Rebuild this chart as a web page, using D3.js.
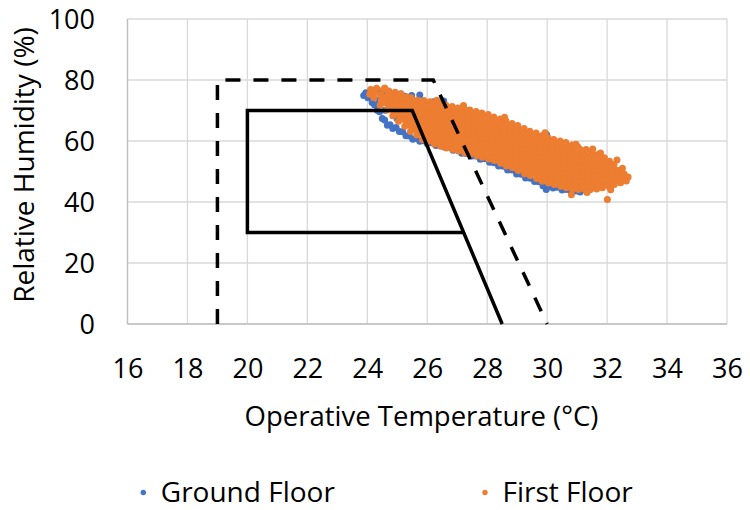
<!DOCTYPE html>
<html>
<head>
<meta charset="utf-8">
<script src="https://cdn.jsdelivr.net/npm/d3@7/dist/d3.min.js"></script>
<style>
  html, body { margin: 0; padding: 0; background: #ffffff; }
  svg { display: block; font-family: "Open Sans", "Noto Sans", sans-serif; }
</style>
</head>
<body>
<svg id="chart" width="750" height="510"></svg>
<script>
// Axis ticks
const xTicks = [16, 18, 20, 22, 24, 26, 28, 30, 32, 34, 36];
const yTicks = [0, 20, 40, 60, 80, 100];

// Comfort zone outlines: [operative temperature (°C), relative humidity (%)]
const zoneOuter = [[19, 0], [19, 80], [26.2, 80], [30, 0]];
const zoneInner = [[27.2, 30], [20, 30], [20, 70], [25.5, 70], [28.5, 0]];

// Hourly readings, ground floor: [temperature, RH]
const groundFloor = [
  [23.88,74.9],[23.95,75.8],[24.02,74.2],[24.10,76.3],[24.16,72.6],[24.24,71.9],[24.33,70.1],[24.41,69.6],
  [24.50,67.4],[24.58,66.9],[24.67,65.2],[24.76,65.3],[24.85,64.1],[24.96,64.4],[25.07,63.1],[25.18,63.0],
  [25.29,61.7],[25.40,61.6],[25.52,60.6],[25.63,60.8],[25.75,59.9],[25.88,60.1],[26.00,59.2],[26.14,59.4],
  [26.29,58.5],[26.43,58.9],[26.58,58.0],[26.72,58.1],[26.86,57.0],[27.00,57.1],[27.15,56.0],[27.30,55.9],
  [27.46,55.0],[27.61,55.1],[27.77,54.0],[27.92,54.2],[28.08,53.0],[28.23,52.9],[28.38,51.8],[28.53,51.7],
  [28.68,50.5],[28.83,50.5],[28.98,49.2],[29.13,49.1],[29.28,47.9],[29.43,47.8],[29.58,46.7],[29.72,46.6],
  [29.86,45.3],[29.97,44.1],[30.05,45.1],[30.20,44.6],[30.35,44.8],[30.50,43.9],[30.65,44.1],[30.80,43.4],
  [30.95,43.6],[31.10,43.3],[31.25,44.0],[31.40,44.1],[31.55,44.9],
  [24.20,76.6],[24.38,76.1],[24.55,75.6],[24.75,75.2],[25.00,75.0],[25.12,75.4],[25.25,74.7],[25.48,74.9],
  [25.75,75.1],[26.00,72.4],[26.21,72.9],[26.40,71.5],[26.55,73.1],[26.80,70.6],[27.20,69.7],[27.60,68.6],
  [28.00,67.5],[28.40,66.2],[28.80,64.8],[29.20,63.3],[29.60,61.7],[29.98,62.1],[30.30,59.3],[30.70,57.6],
  [31.10,56.0],[31.45,54.2],
  [24.40,73.5],[24.80,71.5],[25.20,70.0],[25.60,68.4],[26.00,66.8],[26.40,65.2],[26.80,63.8],[27.20,62.3],
  [27.60,61.0],[28.00,59.6],[28.40,58.1],[28.80,56.6],[29.20,55.2],[29.60,53.7],[30.00,52.2],[30.40,50.8],
  [30.80,49.5],[31.20,48.4],
  [24.60,70.1],[25.00,67.3],[25.40,65.4],[25.80,63.6],[26.20,62.2],[26.60,61.0],[27.00,59.7],[27.40,58.6],
  [27.80,57.3],[28.20,56.0],[28.60,54.6],[29.00,53.1],[29.40,51.5],[29.80,49.9],[30.20,48.3],[30.60,47.1],
  [31.00,46.2],[31.40,46.9],
  [25.40,71.8],[26.20,69.3],[27.00,66.9],[27.80,64.4],[28.60,61.9],[29.40,59.3],[30.20,56.4],[31.00,53.2]
];

// Hourly readings, first floor: [temperature, RH]
const firstFloor = [
  [24.08,75.3],[24.11,76.9],[24.22,74.2],[24.27,75.9],[24.31,77.3],
  [24.43,71.7],[24.47,73.4],[24.45,75.1],[24.52,76.7],
  [24.66,70.2],[24.70,71.9],[24.64,73.6],[24.69,75.0],[24.72,76.4],
  [24.85,68.3],[24.88,69.8],[24.90,71.6],[24.84,73.1],[24.89,74.9],[24.93,76.0],
  [25.04,66.5],[25.08,68.2],[25.05,69.6],[25.10,71.5],[25.03,73.1],[25.07,74.5],[25.12,75.5],
  [25.25,64.8],[25.29,66.2],[25.24,68.1],[25.30,69.5],[25.27,71.4],[25.22,72.8],[25.31,74.5],
  [25.44,63.1],[25.48,64.5],[25.45,66.4],[25.50,67.8],[25.43,69.7],[25.47,71.1],[25.52,73.0],[25.46,74.2],
  [25.65,62.0],[25.69,63.4],[25.66,65.3],[25.71,66.7],[25.64,68.6],[25.68,70.0],[25.72,71.9],[25.67,73.4],
  [25.84,60.5],[25.88,62.2],[25.85,63.6],[25.90,65.5],[25.83,66.9],[25.87,68.8],[25.91,70.2],[25.86,72.1],[25.89,73.3],
  [26.05,59.9],[26.09,61.3],[26.06,63.2],[26.11,64.6],[26.04,66.5],[26.08,67.9],[26.12,69.8],[26.07,71.2],[26.10,72.9],
  [26.24,59.0],[26.28,60.7],[26.25,62.1],[26.30,64.0],[26.23,65.4],[26.27,67.3],[26.31,68.7],[26.26,70.6],[26.29,72.4],
  [26.45,58.3],[26.49,59.8],[26.46,61.6],[26.51,63.1],[26.44,64.9],[26.48,66.4],[26.52,68.2],[26.47,69.7],[26.50,71.5],[26.43,72.2],
  [26.64,57.7],[26.68,59.2],[26.65,61.0],[26.70,62.5],[26.63,64.3],[26.67,65.8],[26.71,67.6],[26.66,69.1],[26.69,70.9],[26.62,71.7],
  [26.85,57.2],[26.89,58.6],[26.86,60.5],[26.91,61.9],[26.84,63.8],[26.88,65.2],[26.92,67.1],[26.87,68.5],[26.90,70.4],[26.83,71.3],
  [27.04,56.7],[27.08,58.2],[27.05,60.0],[27.10,61.5],[27.03,63.3],[27.07,64.8],[27.11,66.6],[27.06,68.1],[27.09,69.9],[27.02,70.8],
  [27.25,56.1],[27.29,57.6],[27.26,59.4],[27.31,60.9],[27.24,62.7],[27.28,64.2],[27.32,66.0],[27.27,67.5],[27.30,69.3],[27.23,70.6],
  [27.44,55.7],[27.48,57.1],[27.45,59.0],[27.50,60.4],[27.43,62.3],[27.47,63.7],[27.51,65.6],[27.46,67.0],[27.49,68.9],[27.42,70.2],
  [27.65,55.2],[27.69,56.6],[27.66,58.5],[27.71,59.9],[27.64,61.8],[27.68,63.2],[27.72,65.1],[27.67,66.5],[27.70,68.4],[27.63,69.7],
  [27.84,54.7],[27.88,56.2],[27.85,58.0],[27.90,59.5],[27.83,61.3],[27.87,62.8],[27.91,64.6],[27.86,66.1],[27.89,67.9],[27.82,69.2],
  [28.05,54.1],[28.09,55.6],[28.06,57.4],[28.11,58.9],[28.04,60.7],[28.08,62.2],[28.12,64.0],[28.07,65.5],[28.10,67.3],[28.03,68.7],
  [28.24,53.6],[28.28,55.0],[28.25,56.9],[28.30,58.3],[28.23,60.2],[28.27,61.6],[28.31,63.5],[28.26,64.9],[28.29,66.8],[28.22,67.9],
  [28.45,52.7],[28.49,54.2],[28.46,56.0],[28.51,57.5],[28.44,59.3],[28.48,60.8],[28.52,62.6],[28.47,64.1],[28.50,65.9],[28.43,67.2],
  [28.64,51.8],[28.68,53.3],[28.65,55.1],[28.70,56.6],[28.63,58.4],[28.67,59.9],[28.71,61.7],[28.66,63.2],[28.69,65.0],[28.62,66.6],
  [28.85,51.2],[28.89,52.6],[28.86,54.5],[28.91,55.9],[28.84,57.8],[28.88,59.2],[28.92,61.1],[28.87,62.5],[28.90,64.4],[28.83,65.7],
  [29.04,50.3],[29.08,51.8],[29.05,53.6],[29.10,55.1],[29.03,56.9],[29.07,58.4],[29.11,60.2],[29.06,61.7],[29.09,63.5],[29.02,65.1],
  [29.25,49.3],[29.29,50.7],[29.26,52.6],[29.31,54.0],[29.24,55.9],[29.28,57.3],[29.32,59.2],[29.27,60.6],[29.30,62.5],[29.23,64.1],
  [29.44,48.7],[29.48,50.2],[29.45,52.0],[29.50,53.5],[29.43,55.3],[29.47,56.8],[29.51,58.6],[29.46,60.1],[29.49,61.9],[29.42,63.2],
  [29.65,47.7],[29.69,49.2],[29.66,51.0],[29.71,52.5],[29.64,54.3],[29.68,55.8],[29.72,57.6],[29.67,59.1],[29.70,60.9],[29.63,62.6],
  [29.84,46.8],[29.88,48.3],[29.85,50.1],[29.90,51.6],[29.83,53.4],[29.87,54.9],[29.91,56.7],[29.86,58.2],[29.89,60.0],[29.82,61.7],
  [30.05,46.2],[30.09,47.7],[30.06,49.5],[30.11,51.0],[30.04,52.8],[30.08,54.3],[30.12,56.1],[30.07,57.6],[30.10,59.4],[30.03,61.1],
  [30.24,45.7],[30.28,47.1],[30.25,49.0],[30.30,50.4],[30.23,52.3],[30.27,53.7],[30.31,55.6],[30.26,57.0],[30.29,58.9],[30.22,60.5],
  [30.45,45.2],[30.49,46.7],[30.46,48.5],[30.51,50.0],[30.44,51.8],[30.48,53.3],[30.52,55.1],[30.47,56.6],[30.50,58.4],[30.43,60.0],
  [30.64,44.7],[30.68,46.1],[30.65,48.0],[30.70,49.4],[30.63,51.3],[30.67,52.7],[30.71,54.6],[30.66,56.0],[30.69,57.9],[30.62,59.5],
  [30.85,44.2],[30.89,45.7],[30.86,47.5],[30.91,49.0],[30.84,50.8],[30.88,52.3],[30.92,54.1],[30.87,55.6],[30.90,57.4],[30.83,58.7],
  [31.04,44.1],[31.08,45.5],[31.05,47.4],[31.10,48.8],[31.03,50.7],[31.07,52.1],[31.11,54.0],[31.06,55.4],[31.09,57.3],[31.02,58.1],
  [31.25,44.2],[31.29,45.6],[31.26,47.5],[31.31,48.9],[31.24,50.8],[31.28,52.2],[31.32,54.1],[31.27,55.5],[31.30,57.2],
  [31.44,44.1],[31.48,45.5],[31.45,47.4],[31.50,48.8],[31.43,50.7],[31.47,52.1],[31.51,54.0],[31.46,55.4],[31.49,56.7],
  [31.65,44.3],[31.69,45.7],[31.66,47.6],[31.71,49.0],[31.64,50.9],[31.68,52.3],[31.72,54.2],[31.67,55.5],
  [31.84,44.7],[31.88,46.1],[31.85,48.0],[31.90,49.4],[31.83,51.3],[31.87,52.7],[31.91,54.5],
  [32.05,45.2],[32.09,46.6],[32.06,48.5],[32.11,49.9],[32.04,51.8],[32.08,53.4],
  [32.24,45.7],[32.28,47.1],[32.25,49.0],[32.30,50.4],[32.23,52.3],
  [32.45,46.3],[32.49,47.7],[32.46,49.6],[32.51,51.1],
  [32.64,46.9],[32.70,48.2],
  [30.81,42.4],[32.01,40.8],[31.33,43.1],[26.32,73.4],[24.58,77.4],[27.21,71.6],[29.93,62.7],
  [31.52,57.4],[32.33,53.8],[30.96,58.9],[28.58,67.8],[31.78,56.1],[32.12,44.0],
  [24.57,72.6],[24.58,74.3],
  [24.78,70.9],[24.77,72.6],[24.79,74.2],
  [24.97,69.0],[24.98,70.7],[24.96,72.4],[24.97,74.0],
  [25.17,67.3],[25.18,69.0],[25.16,70.6],[25.17,72.3],[25.18,73.9],
  [25.37,65.6],[25.36,67.2],[25.38,68.9],[25.37,70.5],[25.36,72.2],[25.38,73.6],
  [25.56,64.0],[25.57,65.6],[25.55,67.3],[25.56,68.9],[25.57,70.6],[25.55,72.2],
  [25.77,62.8],[25.76,64.5],[25.78,66.1],[25.77,67.8],[25.76,69.4],[25.78,71.1],[25.77,72.6],
  [25.96,61.6],[25.97,63.2],[25.95,64.9],[25.96,66.5],[25.97,68.2],[25.95,69.8],[25.96,71.5],
  [26.16,60.7],[26.17,62.4],[26.15,64.0],[26.16,65.7],[26.17,67.3],[26.15,69.0],[26.16,70.6],[26.17,71.9],
  [26.36,60.0],[26.37,61.6],[26.35,63.3],[26.36,64.9],[26.37,66.6],[26.35,68.2],[26.36,69.9],[26.37,71.3],
  [26.56,59.3],[26.57,61.0],[26.55,62.6],[26.56,64.3],[26.57,65.9],[26.55,67.6],[26.56,69.2],[26.57,70.8],
  [26.76,58.7],[26.77,60.4],[26.75,62.0],[26.76,63.7],[26.77,65.3],[26.75,67.0],[26.76,68.6],[26.77,70.3],
  [26.96,58.2],[26.97,59.8],[26.95,61.5],[26.96,63.1],[26.97,64.8],[26.95,66.4],[26.96,68.1],[26.97,69.7],
  [27.16,57.7],[27.17,59.3],[27.15,61.0],[27.16,62.6],[27.17,64.3],[27.15,65.9],[27.16,67.6],[27.17,69.2],
  [27.36,57.1],[27.37,58.8],[27.35,60.4],[27.36,62.1],[27.37,63.7],[27.35,65.4],[27.36,67.0],[27.37,68.7],
  [27.56,56.6],[27.57,58.3],[27.55,59.9],[27.56,61.6],[27.57,63.2],[27.55,64.9],[27.56,66.5],[27.57,68.2],
  [27.76,56.1],[27.77,57.8],[27.75,59.4],[27.76,61.1],[27.77,62.7],[27.75,64.4],[27.76,66.0],[27.77,67.7],
  [27.96,55.6],[27.97,57.2],[27.95,58.9],[27.96,60.5],[27.97,62.2],[27.95,63.8],[27.96,65.5],[27.97,67.1],
  [28.16,55.0],[28.17,56.7],[28.15,58.3],[28.16,60.0],[28.17,61.6],[28.15,63.3],[28.16,64.9],[28.17,66.6],
  [28.36,54.3],[28.37,56.0],[28.35,57.6],[28.36,59.3],[28.37,60.9],[28.35,62.6],[28.36,64.2],[28.37,65.9],
  [28.56,53.5],[28.57,55.2],[28.55,56.8],[28.56,58.5],[28.57,60.1],[28.55,61.8],[28.56,63.4],[28.57,65.1],
  [28.76,52.8],[28.77,54.4],[28.75,56.1],[28.76,57.7],[28.77,59.4],[28.75,61.0],[28.76,62.7],[28.77,64.3],
  [28.96,52.0],[28.97,53.7],[28.95,55.3],[28.96,57.0],[28.97,58.6],[28.95,60.3],[28.96,61.9],[28.97,63.6],
  [29.16,51.1],[29.17,52.8],[29.15,54.4],[29.16,56.1],[29.17,57.7],[29.15,59.4],[29.16,61.0],[29.17,62.7],
  [29.36,50.3],[29.37,52.0],[29.35,53.6],[29.36,55.3],[29.37,56.9],[29.35,58.6],[29.36,60.2],[29.37,61.9],
  [29.56,49.5],[29.57,51.2],[29.55,52.8],[29.56,54.5],[29.57,56.1],[29.55,57.8],[29.56,59.4],[29.57,61.1],
  [29.76,48.6],[29.77,50.3],[29.75,51.9],[29.76,53.6],[29.77,55.2],[29.75,56.9],[29.76,58.5],[29.77,60.2],
  [29.96,47.9],[29.97,49.5],[29.95,51.2],[29.96,52.8],[29.97,54.5],[29.95,56.1],[29.96,57.8],[29.97,59.4],
  [30.16,47.3],[30.17,49.0],[30.15,50.6],[30.16,52.3],[30.17,53.9],[30.15,55.6],[30.16,57.2],[30.17,58.9],
  [30.36,46.8],[30.37,48.4],[30.35,50.1],[30.36,51.7],[30.37,53.4],[30.35,55.0],[30.36,56.7],[30.37,58.3],
  [30.56,46.3],[30.57,47.9],[30.55,49.6],[30.56,51.2],[30.57,52.9],[30.55,54.5],[30.56,56.2],[30.57,57.8],
  [30.76,45.8],[30.77,47.5],[30.75,49.1],[30.76,50.8],[30.77,52.4],[30.75,54.1],[30.76,55.7],[30.77,57.2],
  [30.96,45.4],[30.97,47.0],[30.95,48.7],[30.96,50.3],[30.97,52.0],[30.95,53.6],[30.96,55.3],[30.97,56.8],
  [31.16,45.2],[31.17,46.9],[31.15,48.5],[31.16,50.2],[31.17,51.8],[31.15,53.5],[31.16,55.1],[31.17,56.4],
  [31.36,45.2],[31.37,46.8],[31.35,48.5],[31.36,50.1],[31.37,51.8],[31.35,53.4],[31.36,55.0],
  [31.56,45.3],[31.57,46.9],[31.55,48.6],[31.56,50.2],[31.57,51.9],[31.55,53.5],[31.56,54.9],
  [31.76,45.6],[31.77,47.2],[31.75,48.9],[31.76,50.5],[31.77,52.2],[31.75,53.7],
  [31.96,46.0],[31.97,47.6],[31.95,49.3],[31.96,50.9],[31.97,52.6],
  [32.16,46.5],[32.17,48.1],[32.15,49.8],[32.16,51.4],
  [32.36,47.0],[32.37,48.6],[32.35,50.3],
  [32.56,47.6],[32.57,49.2]
];

const seriesNames = ["Ground Floor", "First Floor"];
const seriesColors = ["#4472C4", "#ED7D31"];

const svg = d3.select("#chart");

const x = d3.scaleLinear().domain([16, 36]).range([127.5, 727]);
const y = d3.scaleLinear().domain([0, 100]).range([324, 19]);

// Gridlines
const grid = svg.append("g").attr("stroke", "#d9d9d9").attr("stroke-width", 1.3);
grid.selectAll("line.gx").data(xTicks).join("line")
  .attr("x1", d => x(d)).attr("x2", d => x(d))
  .attr("y1", y(0)).attr("y2", y(100));
grid.selectAll("line.gy").data(yTicks).join("line")
  .attr("x1", x(16)).attr("x2", x(36))
  .attr("y1", d => y(d)).attr("y2", d => y(d));

// Axis lines
svg.append("line").attr("x1", x(16)).attr("x2", x(16)).attr("y1", y(0)).attr("y2", y(100))
  .attr("stroke", "#bfbfbf").attr("stroke-width", 1.3);
svg.append("line").attr("x1", x(16)).attr("x2", x(36)).attr("y1", y(0)).attr("y2", y(0))
  .attr("stroke", "#bfbfbf").attr("stroke-width", 1.3);

// Tick labels via d3 axes
const xAxis = svg.append("g").attr("transform", `translate(0,${y(0)})`)
  .call(d3.axisBottom(x).tickValues(xTicks).tickSize(0).tickFormat(d3.format("d")));
xAxis.select(".domain").remove();
xAxis.selectAll("text").attr("y", 54).attr("dy", null)
  .attr("font-size", 27).attr("font-family", "Open Sans").attr("fill", "#000");

const yAxis = svg.append("g").attr("transform", `translate(${x(16)},0)`)
  .call(d3.axisLeft(y).tickValues(yTicks).tickSize(0).tickFormat(d3.format("d")));
yAxis.select(".domain").remove();
yAxis.selectAll("text").attr("x", -32.5).attr("dy", "0.35em")
  .attr("font-size", 27).attr("font-family", "Open Sans").attr("fill", "#000");

// Scatter points
const plot = svg.append("g");
[groundFloor, firstFloor].forEach((pts, i) => {
  plot.append("g").attr("fill", seriesColors[i])
    .selectAll("circle").data(pts).join("circle")
    .attr("cx", d => x(d[0])).attr("cy", d => y(d[1])).attr("r", 3.5);
});

// Comfort zone outlines
const line = d3.line().x(d => x(d[0])).y(d => y(d[1]));
svg.append("path").attr("d", line(zoneOuter))
  .attr("fill", "none").attr("stroke", "#000").attr("stroke-width", 3.5)
  .attr("stroke-dasharray", "15,13").attr("stroke-linejoin", "miter");
svg.append("path").attr("d", line(zoneInner))
  .attr("fill", "none").attr("stroke", "#000").attr("stroke-width", 3.5)
  .attr("stroke-linejoin", "miter");

// Axis titles
svg.append("text").attr("x", 421.5).attr("y", 426).attr("text-anchor", "middle")
  .attr("font-size", 27.5).attr("fill", "#000").text("Operative Temperature (°C)");
svg.append("text").attr("transform", "translate(33.5,165) rotate(-90)").attr("text-anchor", "middle")
  .attr("font-size", 28).attr("fill", "#000").text("Relative Humidity (%)");

// Legend
const legendX = [143.3, 485];
const legend = svg.append("g");
seriesNames.forEach((name, i) => {
  legend.append("circle").attr("cx", legendX[i]).attr("cy", 492.5).attr("r", 2.7).attr("fill", seriesColors[i]);
  legend.append("text").attr("x", legendX[i] + 17.5).attr("y", 502).attr("font-size", 28)
    .attr("fill", "#000").text(name);
});
</script>
</body>
</html>
